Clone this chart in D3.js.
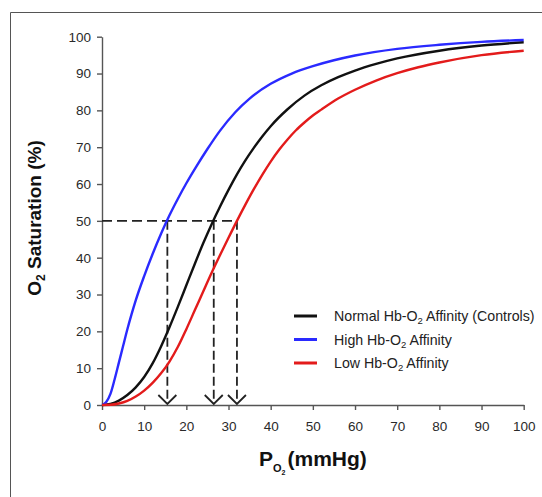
<!DOCTYPE html>
<html>
<head>
<meta charset="utf-8">
<script src="https://cdn.jsdelivr.net/npm/d3@7"></script>
<style>
  body { margin: 0; background: #fff; }
  svg { display: block; font-family: "Liberation Sans", Arial, sans-serif; }
</style>
</head>
<body>
<svg id="chart" width="542" height="497"></svg>
<script>
// values: [PO2 mmHg, saturation %]
var normalCurve = [[0,0],[2,0.3],[4,1.2],[6,2.7],[8,4.8],[10,7.6],[12,11.3],[14,15.9],[16,21.1],
    [18,26.7],[20,32.5],[22,38.3],[24,43.9],[26,49.1],[28,53.9],[30,58.4],[32,62.6],[34,66.4],
    [36,69.8],[38,72.9],[40,75.7],[44,80.3],[48,84],[52,86.8],[56,89],[60,90.8],[65,92.6],
    [70,94.1],[80,96.2],[90,97.6],[100,98.5]];
var highCurve = [[0,0],[1,0.8],[2,3],[3,7],[4,11.5],[5,16],[6,20.5],[7,24.6],[8,28.4],[10,35],
    [12,41],[14,46.5],[16,51.5],[18,56],[20,60.2],[22.5,65],[25,69.5],[28,74.5],[31.6,79.5],
    [35,83.2],[40,87.2],[45,90],[50,92],[55,93.6],[60,94.9],[70,96.7],[80,97.8],[90,98.6],[100,99.1]];
var lowCurve = [[0,0],[2,0.05],[4,0.4],[6,1.1],[8,2.3],[10,3.9],[12,6],[14,8.6],[16,11.8],
    [18,15.8],[20,20.6],[22,25.7],[24,30.8],[26,35.9],[28,40.7],[30,45.4],[32,50],[34,54.4],
    [36,58.6],[38,62.5],[40,66.1],[42,69.3],[44,72.1],[46,74.6],[48,76.7],[50,78.6],[52,80.2],
    [56,83.2],[60,85.6],[65,88.1],[70,90.1],[75,91.7],[80,93],[90,95],[100,96.2]];

var p50Values = [15.5, 26.5, 32];   // dashed drop lines at 50 %
var xTicks = [0,10,20,30,40,50,60,70,80,90,100];
var yTicks = [0,10,20,30,40,50,60,70,80,90,100];

var series = [
    {name: "Normal Hb-O", tail: " Affinity (Controls)", data: normalCurve, color: "#111111"},
    {name: "High Hb-O", tail: " Affinity", data: highCurve, color: "#2a2aff"},
    {name: "Low Hb-O", tail: " Affinity", data: lowCurve, color: "#e31b1b"}
];

var svg = d3.select("#chart");

// frame of the figure
svg.append("path")
    .attr("d", "M10.5,497V12.5H542")
    .attr("fill", "none")
    .attr("stroke", "#555")
    .attr("stroke-width", 1);

var x = d3.scaleLinear().domain([0, 100]).range([102, 523.7]);
var y = d3.scaleLinear().domain([0, 100]).range([405, 36.7]);

// axes
var xAxis = svg.append("g")
    .attr("transform", "translate(0," + y(0) + ")")
    .call(d3.axisBottom(x).tickValues(xTicks).tickSize(5).tickPadding(11).tickSizeOuter(0));
var yAxis = svg.append("g")
    .attr("transform", "translate(" + x(0) + ",0)")
    .call(d3.axisLeft(y).tickValues(yTicks).tickSize(5).tickPadding(6).tickSizeOuter(0));

[xAxis, yAxis].forEach(function(a) {
    a.select(".domain").attr("stroke", "#555").attr("stroke-width", 1.4);
    a.selectAll(".tick line").attr("stroke", "#555").attr("stroke-width", 1.4);
    a.selectAll(".tick text")
        .attr("fill", "#2a2a2a")
        .attr("font-size", "13.5px")
        .attr("font-family", "Liberation Sans, Arial, sans-serif");
});

// dashed guide lines
var dash = svg.append("g")
    .attr("stroke", "#222")
    .attr("stroke-width", 1.8)
    .attr("fill", "none");

dash.append("line")
    .attr("x1", x(0)).attr("x2", x(d3.max(p50Values)))
    .attr("y1", y(50)).attr("y2", y(50))
    .attr("stroke-dasharray", "10,5");

dash.selectAll("line.drop")
    .data(p50Values)
    .enter()
    .append("line")
    .attr("class", "drop")
    .attr("x1", function(d) { return x(d); })
    .attr("x2", function(d) { return x(d); })
    .attr("y1", y(50))
    .attr("y2", y(0) - 1)
    .attr("stroke-dasharray", "9,4");

dash.selectAll("path.arrow")
    .data(p50Values)
    .enter()
    .append("path")
    .attr("class", "arrow")
    .attr("d", function(d) {
        var px = x(d), py = y(0) - 1;
        return "M" + (px - 9) + "," + (py - 9) + "L" + px + "," + py + "L" + (px + 9) + "," + (py - 9);
    });

// curves
var line = d3.line()
    .x(function(d) { return x(d[0]); })
    .y(function(d) { return y(d[1]); })
    .curve(d3.curveMonotoneX);

svg.selectAll("path.curve")
    .data(series)
    .enter()
    .append("path")
    .attr("class", "curve")
    .attr("d", function(d) { return line(d.data); })
    .attr("fill", "none")
    .attr("stroke", function(d) { return d.color; })
    .attr("stroke-width", 2.4);

// legend
var legend = svg.append("g");
series.forEach(function(s, i) {
    var ly = 316 + i * 23.5;
    legend.append("line")
        .attr("x1", 294).attr("x2", 317)
        .attr("y1", ly).attr("y2", ly)
        .attr("stroke", s.color)
        .attr("stroke-width", 3);
    var t = legend.append("text")
        .attr("x", 334)
        .attr("y", ly + 5)
        .attr("font-size", "14.2px")
        .attr("fill", "#222");
    t.append("tspan").text(s.name);
    t.append("tspan").attr("dy", 3).attr("font-size", "9.5px").text("2");
    t.append("tspan").attr("dy", -3).text(s.tail);
});

// axis titles
var yTitle = svg.append("text")
    .attr("transform", "translate(41,218) rotate(-90)")
    .attr("text-anchor", "middle")
    .attr("font-size", "19px")
    .attr("font-weight", "bold")
    .attr("fill", "#111");
yTitle.append("tspan").text("O");
yTitle.append("tspan").attr("dy", 4).attr("font-size", "12px").text("2");
yTitle.append("tspan").attr("dy", -4).text(" Saturation (%)");

var xTitle = svg.append("text")
    .attr("x", 259)
    .attr("y", 466)
    .attr("font-size", "21px")
    .attr("font-weight", "bold")
    .attr("fill", "#111");
xTitle.append("tspan").text("P");
xTitle.append("tspan").attr("dy", 6).attr("font-size", "11px").text("O");
xTitle.append("tspan").attr("dy", 3).attr("font-size", "7px").text("2");
xTitle.append("tspan").attr("dy", -9).attr("dx", 2).text("(mmHg)");
</script>
</body>
</html>
